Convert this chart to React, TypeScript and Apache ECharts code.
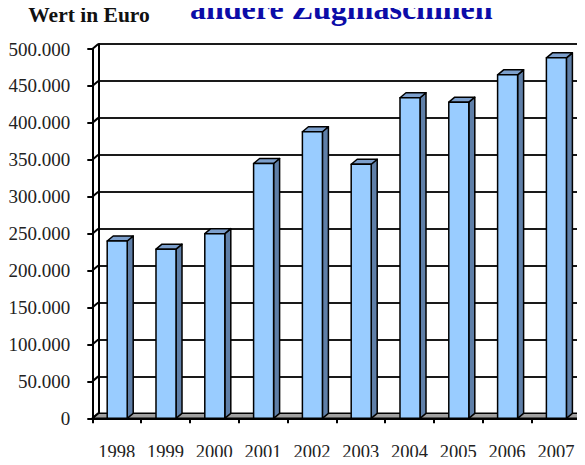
import React, { useEffect, useRef } from "react";
import * as echarts from "echarts";

const categories = ["1998", "1999", "2000", "2001", "2002", "2003", "2004", "2005", "2006", "2007"];
const values = [240000, 229000, 250000, 345000, 388000, 344000, 434000, 428000, 465000, 488000];
const yTicks = [0, 50000, 100000, 150000, 200000, 250000, 300000, 350000, 400000, 450000, 500000];
const titleText = "andere Zugmaschinen";
const yTitle = "Wert in Euro";

const DX = 6;
const DY = -5;
const SERIF = "Liberation Serif, Times New Roman, serif";

function fmt(v: number): string {
  return String(v).replace(/\B(?=(\d{3})+(?!\d))/g, ".");
}

export default function App() {
  const ref = useRef<HTMLDivElement>(null);
  useEffect(() => {
    if (!ref.current) return;
    const chart = echarts.init(ref.current, null, { renderer: "svg" });
    const option: any = {
      animation: false,
      backgroundColor: "#ffffff",
      graphic: [
        {
          type: "text",
          z: 10,
          style: {
            text: titleText,
            x: 190,
            y: 7.5,
            verticalAlign: "middle",
            fontSize: 32,
            fontWeight: "bold",
            fontFamily: SERIF,
            fill: "#0c0ca8",
          },
        },
        {
          type: "text",
          z: 10,
          style: {
            text: yTitle,
            x: 28.3,
            y: 15.4,
            verticalAlign: "middle",
            fontSize: 21.5,
            fontWeight: "bold",
            fontFamily: SERIF,
            fill: "#111",
          },
        },
      ],
      grid: [
        { left: 92.3, right: 4.7, top: 49, bottom: 46.7, containLabel: false },
        { left: 98.3, right: -1.3, top: 44, bottom: 51.7, containLabel: false },
      ],
      xAxis: [
        {
          type: "category",
          gridIndex: 0,
          data: categories,
          boundaryGap: true,
          axisLine: { show: true, lineStyle: { color: "#000", width: 2 } },
          axisTick: { show: true, length: 5, alignWithLabel: false, lineStyle: { color: "#000", width: 2 } },
          axisLabel: { margin: 24.5, fontSize: 18.5, fontFamily: SERIF, color: "#222" },
          splitLine: { show: false },
        },
        {
          type: "category",
          gridIndex: 1,
          data: categories,
          show: false,
        },
      ],
      yAxis: [
        {
          type: "value",
          gridIndex: 0,
          min: 0,
          max: 500000,
          interval: 50000,
          axisLine: { show: true, lineStyle: { color: "#000", width: 2 } },
          axisTick: { show: true, length: 5, lineStyle: { color: "#000", width: 2 } },
          axisLabel: {
            margin: 22,
            fontSize: 19,
            fontFamily: SERIF,
            color: "#222",
            formatter: (v: number) => fmt(v),
          },
          splitLine: { show: false },
        },
        {
          type: "value",
          gridIndex: 1,
          min: 0,
          max: 500000,
          interval: 50000,
          axisLine: { show: true, lineStyle: { color: "#000", width: 2 } },
          axisTick: { show: false },
          axisLabel: { show: false },
          splitLine: { show: true, lineStyle: { color: "#1a1a1a", width: 2 } },
        },
      ],
      series: [
        {
          type: "custom",
          name: "walls",
          xAxisIndex: 0,
          yAxisIndex: 0,
          z: 1,
          silent: true,
          clip: false,
          data: yTicks.map((v) => [0, v]),
          renderItem: (params: any, api: any) => {
            const v = api.value(1);
            const band = api.size([1, 0])[0];
            const p = api.coord([0, v]);
            const x0 = p[0] - band / 2;
            const y = p[1];
            const children: any[] = [];
            if (v === 0) {
              const pe = api.coord([categories.length - 1, 0]);
              const x1 = pe[0] + band / 2;
              children.push({
                type: "polygon",
                shape: {
                  points: [
                    [x0, y],
                    [x1, y],
                    [x1 + DX, y + DY],
                    [x0 + DX, y + DY],
                  ],
                },
                style: { fill: "#a0a0a0", stroke: "#000", lineWidth: 1.5 },
              });
            }
            children.push({
              type: "line",
              shape: { x1: x0, y1: y, x2: x0 + DX, y2: y + DY },
              style: { stroke: "#000", lineWidth: 2 },
            });
            return { type: "group", children };
          },
        },
        {
          type: "custom",
          name: "Wert",
          xAxisIndex: 0,
          yAxisIndex: 0,
          z: 3,
          clip: false,
          data: values.map((v, i) => [i, v]),
          renderItem: (params: any, api: any) => {
            const i = api.value(0);
            const v = api.value(1);
            const top = api.coord([i, v]);
            const base = api.coord([i, 0]);
            const band = api.size([1, 0])[0];
            const w = band * 0.41;
            const l = top[0] - w / 2 + 0.5;
            const r = l + w;
            const ty = top[1];
            const by = base[1];
            const st = { stroke: "#000", lineWidth: 1.5, lineJoin: "round" };
            return {
              type: "group",
              children: [
                {
                  type: "polygon",
                  shape: {
                    points: [
                      [r, ty],
                      [r + DX, ty + DY],
                      [r + DX, by + DY],
                      [r, by],
                    ],
                  },
                  style: { fill: "#5f7fa8", ...st },
                },
                {
                  type: "polygon",
                  shape: {
                    points: [
                      [l, ty],
                      [l + DX, ty + DY],
                      [r + DX, ty + DY],
                      [r, ty],
                    ],
                  },
                  style: { fill: "#7c9fcc", ...st },
                },
                {
                  type: "rect",
                  shape: { x: l, y: ty, width: w, height: by - ty },
                  style: { fill: "#99ccff", ...st },
                },
              ],
            };
          },
        },
      ],
    };
    chart.setOption(option);
    return () => chart.dispose();
  }, []);
  return <div ref={ref} style={{ width: 585, height: 465, margin: -8 }} />;
}
